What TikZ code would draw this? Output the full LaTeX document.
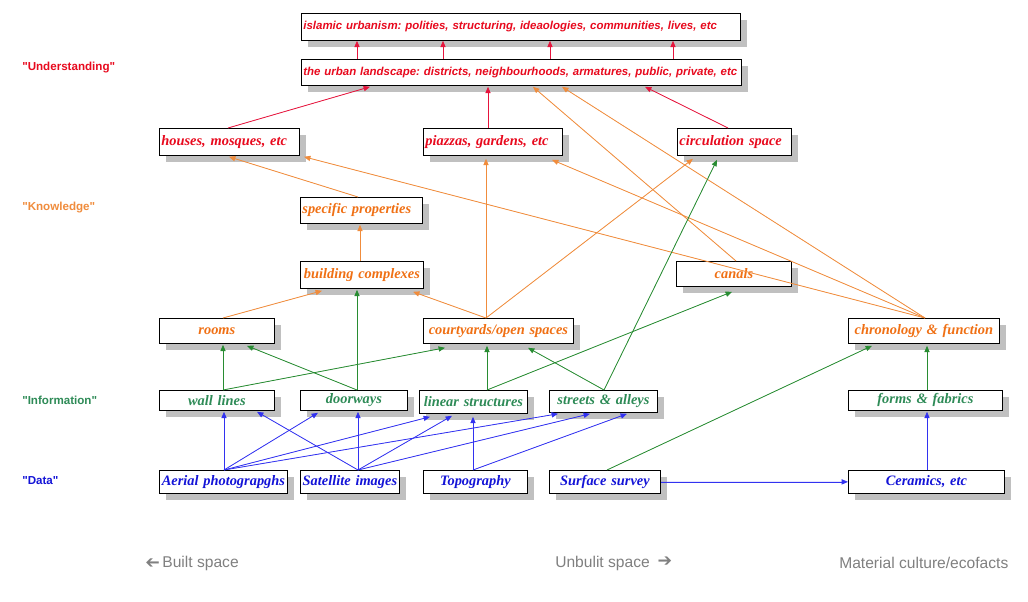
\documentclass[tikz,border=0pt]{standalone}
\usepackage{fontspec}
\setmainfont{Liberation Serif}
\newfontfamily\arialf{Liberation Sans}
\newfontfamily\dejavuf{DejaVu Sans}
\usetikzlibrary{calc,shadows,arrows.meta}
\definecolor{tred}{RGB}{232,10,30}
\definecolor{tora}{RGB}{240,112,20}
\definecolor{tgre}{RGB}{46,139,87}
\definecolor{tblu}{RGB}{20,20,215}
\definecolor{lred}{RGB}{230,20,60}
\definecolor{lora}{RGB}{240,140,60}
\definecolor{lgre}{RGB}{40,140,50}
\definecolor{lblu}{RGB}{50,50,240}
\definecolor{shd}{RGB}{192,192,192}
\definecolor{botg}{RGB}{128,128,128}
\frenchspacing
\begin{document}
\begin{tikzpicture}[x=0.75pt,y=-0.75pt,
  box/.style={draw=black, line width=0.6pt, fill=white, anchor=north west,
    inner xsep=1.5pt, inner ysep=0pt,
    general shadow={fill=shd, shadow xshift=5.25pt, shadow yshift=-5.25pt}},
  lt/.style={align=left},
  ct/.style={align=center},
  utx/.style={font=\frenchspacing\arialf\bfseries\itshape\fontsize{8.6}{10}\selectfont, text=tred},
  sr/.style={font=\frenchspacing\bfseries\itshape\fontsize{10.8}{12}\selectfont, text=tred},
  so/.style={font=\frenchspacing\bfseries\itshape\fontsize{10.8}{12}\selectfont, text=tora},
  sg/.style={font=\frenchspacing\bfseries\itshape\fontsize{10.8}{12}\selectfont, text=tgre},
  sb/.style={font=\frenchspacing\bfseries\itshape\fontsize{10.8}{12}\selectfont, text=tblu},
  lab/.style={font=\arialf\bfseries\fontsize{8.7}{10}\selectfont, anchor=west, inner sep=0pt},
  bot/.style={font=\arialf\fontsize{11.7}{13}\selectfont, text=botg, anchor=west, inner sep=0pt},
  arr/.style={line width=0.6pt, -{Triangle[length=4.8pt,width=3.9pt]}},
  er/.style={arr, draw=lred, fill=lred},
  eo/.style={arr, draw=lora, fill=lora},
  eg/.style={arr, draw=lgre, fill=lgre},
  eb/.style={arr, draw=lblu, fill=lblu}
]
\fill[white] (0,0) rectangle (1028,602);
\useasboundingbox (0,0) rectangle (1028,602);

% level labels
\node[lab, text=tred] (lu) at (22,68) {"Understanding"};
\node[lab, text=lora] (lk) at (22,208) {"Knowledge"};
\node[lab, text=tgre] (li) at (22,400) {"Information"};
\node[lab, text=tblu] (ld) at (22,481) {"Data"};

% boxes
\node[box, utx, lt, text width=326.25pt, minimum height=20.25pt] (isl) at (301,13) {\mbox{islamic urbanism: polities, structuring, ideaologies, communities, lives, etc}};
\node[box, utx, lt, text width=327pt, minimum height=19.5pt] (urb) at (301,59) {\mbox{the urban landscape: districts, neighbourhoods, armatures, public, private, etc}};

\node[box, sr, lt, text width=102pt, minimum height=20.25pt] (hou) at (159,128) {\mbox{houses, mosques, etc}};
\node[box, sr, lt, text width=101.25pt, minimum height=20.25pt] (pia) at (423,128) {\mbox{piazzas, gardens, etc}};
\node[box, sr, lt, text width=82.5pt, minimum height=20.25pt] (cir) at (677,128) {\mbox{circulation space}};

\node[box, so, lt, text width=88.5pt, minimum height=19.5pt] (spe) at (300,197) {\mbox{specific properties}};
\node[box, so, ct, text width=89.25pt, minimum height=20.25pt] (bui) at (300,261) {\mbox{building complexes}};
\node[box, so, ct, text width=83.25pt, minimum height=18.75pt] (can) at (676,261) {\mbox{canals}};
\node[box, so, ct, text width=83.25pt, minimum height=18.75pt] (roo) at (159,318) {\mbox{rooms}};
\node[box, so, ct, text width=109.5pt, minimum height=18.75pt] (cou) at (423,318) {\mbox{courtyards/open spaces}};
\node[box, so, ct, text width=110.25pt, minimum height=18.75pt] (chr) at (848,318) {\mbox{chronology \& function}};

\node[box, sg, ct, text width=83.25pt, minimum height=15pt] (wal) at (159,390) {\mbox{wall lines}};
\node[box, sg, ct, text width=77.25pt, minimum height=15pt] (doo) at (300,390) {\mbox{doorways}};
\node[box, sg, ct, text width=78pt, minimum height=17.25pt] (lin) at (419,390) {\mbox{linear structures}};
\node[box, sg, ct, text width=78pt, minimum height=16.5pt] (str) at (549,390) {\mbox{streets \& alleys}};
\node[box, sg, ct, text width=112.5pt, minimum height=15pt] (frm) at (848,390) {\mbox{forms \& fabrics}};

\node[box, sb, ct, text width=93pt, minimum height=17.25pt] (aer) at (159,470) {\mbox{Aerial photograpghs}};
\node[box, sb, ct, text width=71.25pt, minimum height=17.25pt] (sat) at (300,470) {\mbox{Satellite images}};
\node[box, sb, ct, text width=75pt, minimum height=17.25pt] (topo) at (423,470) {\mbox{Topography}};
\node[box, sb, ct, text width=80.25pt, minimum height=17.25pt] (sur) at (549,470) {\mbox{Surface survey}};
\node[box, sb, ct, text width=114pt, minimum height=17.25pt] (cer) at (848,470) {\mbox{Ceramics, etc}};

% bottom labels
\node[bot] (bs) at (145,563) {\raisebox{0.3pt}{\rotatebox[origin=c]{180}{\dejavuf\bfseries\fontsize{13}{14}\selectfont ➔}}\,Built space};
\node[bot] (us) at (555,563) {Unbulit space\enspace\raisebox{0.3pt}{\dejavuf\bfseries\fontsize{13}{14}\selectfont ➔}};
\node[bot] (mc) at (839,563) {Material culture/ecofacts};

% red connectors
\foreach \dx in {56,142,249,372}
  \draw[er] ($(urb.north west)+(\dx,0)$) -- ($(isl.south west)+(\dx,0)$);
\draw[er] ($(hou.north west)+(69,0)$) -- ($(urb.south west)+(69,1)$);
\draw[er] ($(pia.north west)+(65,0)$) -- ($(urb.south west)+(187,1)$);
\draw[er] ($(cir.north west)+(51,0)$) -- ($(urb.south west)+(344,1)$);

% orange connectors
\draw[eo] ($(can.north west)+(60,0)$) -- ($(urb.south west)+(232,1)$);
\draw[eo] ($(chr.north west)+(77,0)$) -- ($(urb.south west)+(261,1)$);
\draw[eo] ($(chr.north west)+(77,0)$) -- ($(pia.south west)+(129,4)$);
\draw[eo] ($(chr.north west)+(77,0)$) -- ($(hou.south west)+(145,1)$);
\draw[eo] ($(spe.north west)+(58,0)$) -- ($(hou.south west)+(70,1)$);
\draw[eo] ($(bui.north west)+(60,0)$) -- ($(spe.south west)+(60,1)$);
\draw[eo] ($(roo.north west)+(64,0)$) -- ($(bui.south west)+(22,2)$);
\draw[eo] ($(cou.north west)+(63,0)$) -- ($(bui.south west)+(113,3)$);
\draw[eo] ($(cou.north west)+(63,0)$) -- ($(pia.south west)+(63,3)$);
\draw[eo] ($(cou.north west)+(63,0)$) -- ($(cir.south west)+(16,3)$);

% green connectors
\draw[eg] ($(wal.north west)+(64,0)$) -- ($(roo.south west)+(64,1)$);
\draw[eg] ($(doo.north west)+(57,0)$) -- ($(roo.south west)+(88,2)$);
\draw[eg] ($(wal.north west)+(64,0)$) -- ($(cou.south west)+(22,4)$);
\draw[eg] ($(doo.north west)+(57,0)$) -- ($(bui.south west)+(57,1)$);
\draw[eg] ($(lin.north west)+(68,0)$) -- ($(cou.south west)+(64,2)$);
\draw[eg] ($(lin.north west)+(68,0)$) -- ($(can.south west)+(56,5)$);
\draw[eg] ($(str.north west)+(55,0)$) -- ($(cou.south west)+(105,4)$);
\draw[eg] ($(str.north west)+(55,0)$) -- ($(cir.south west)+(40,4)$);
\draw[eg] ($(frm.north west)+(79,0)$) -- ($(chr.south west)+(79,2)$);
\draw[eg] ($(sur.north west)+(58,0)$) -- ($(chr.south west)+(24,2)$);

% blue connectors
\draw[eb] ($(aer.north west)+(65,0)$) -- ($(wal.south west)+(65,1)$);
\draw[eb] ($(aer.north west)+(65,0)$) -- ($(doo.south west)+(18,2)$);
\draw[eb] ($(aer.north west)+(65,0)$) -- ($(lin.south west)+(11,3)$);
\draw[eb] ($(aer.north west)+(65,0)$) -- ($(str.south west)+(9,1)$);
\draw[eb] ($(sat.north west)+(58,0)$) -- ($(wal.south west)+(98,1)$);
\draw[eb] ($(sat.north west)+(58,0)$) -- ($(doo.south west)+(58,1)$);
\draw[eb] ($(sat.north west)+(58,0)$) -- ($(lin.south west)+(33,2)$);
\draw[eb] ($(sat.north west)+(58,0)$) -- ($(str.south west)+(41,1)$);
\draw[eb] ($(topo.north west)+(50,0)$) -- ($(lin.south west)+(54,3)$);
\draw[eb] ($(topo.north west)+(50,0)$) -- ($(str.south west)+(78,1)$);
\draw[eb] (sur.east) -- (cer.west);
\draw[eb] ($(cer.north west)+(79,0)$) -- ($(frm.south west)+(79,1)$);
\end{tikzpicture}
\end{document}
